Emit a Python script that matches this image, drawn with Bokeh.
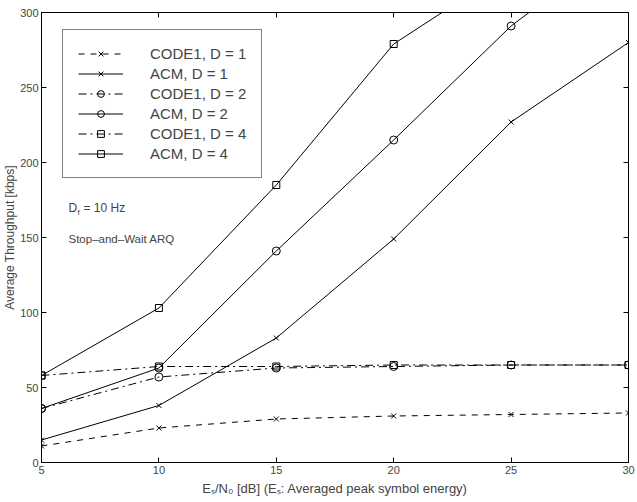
from bokeh.plotting import figure
from bokeh.models import (Range1d, LinearAxis, FixedTicker, Legend, LegendItem, Label)
from bokeh.embed import file_html
from bokeh.resources import INLINE

# ---- data ----
snr = [5, 10, 15, 20, 25, 30]
code1_d1 = [11, 23, 29, 31, 32, 33]
acm_d1 = [15, 38, 83, 149, 227, 280]
code1_d2 = [36, 57, 63, 64, 65, 65]
acm_d2 = [36, 63, 141, 215, 291, 350]
code1_d4 = [58, 64, 64, 65, 65, 65]
acm_d4 = [58, 103, 185, 279, 330, 360]

x_ticks = [5, 10, 15, 20, 25, 30]
y_ticks = [0, 50, 100, 150, 200, 250, 300]

FONT = "Liberation Sans"

p = figure(width=637, height=502, x_range=Range1d(5, 30), y_range=Range1d(0, 300),
           output_backend="svg", toolbar_location=None,
           min_border_left=40, min_border_right=9, min_border_top=12, min_border_bottom=40)
p.background_fill_color = "white"
p.border_fill_color = "white"
p.outline_line_color = "black"
p.grid.visible = False

for ax in (p.xaxis[0], p.yaxis[0]):
    ax.major_tick_in = 5
    ax.major_tick_out = 0
    ax.minor_tick_line_color = None
    ax.major_label_text_font = FONT
    ax.major_label_text_font_size = "11px"
    ax.axis_label_text_font = FONT
    ax.axis_label_text_font_style = "normal"
    ax.axis_line_color = "black"
p.xaxis[0].ticker = FixedTicker(ticks=x_ticks)
p.yaxis[0].ticker = FixedTicker(ticks=y_ticks)
p.xaxis[0].major_label_standoff = 3
p.yaxis[0].major_label_standoff = 3
p.xaxis[0].axis_label = "Eₛ/N₀ [dB] (Eₛ: Averaged peak symbol energy)"
p.yaxis[0].axis_label = "Average Throughput [kbps]"
p.xaxis[0].axis_label_text_font_size = "13px"
p.yaxis[0].axis_label_text_font_size = "12px"
p.xaxis[0].axis_label_standoff = 4
p.yaxis[0].axis_label_standoff = 0

right = LinearAxis(ticker=FixedTicker(ticks=y_ticks), major_tick_in=5, major_tick_out=0,
                   minor_tick_line_color=None,
                   major_label_overrides={t: "" for t in y_ticks},
                   major_label_standoff=0)
top = LinearAxis(ticker=FixedTicker(ticks=x_ticks), major_tick_in=5, major_tick_out=0,
                 minor_tick_line_color=None,
                 major_label_overrides={t: "" for t in x_ticks},
                 major_label_standoff=0)
p.add_layout(right, "right")
p.add_layout(top, "above")

series = [
    ("CODE1, D = 1", code1_d1, "dashed", "x"),
    ("ACM, D = 1", acm_d1, "solid", "x"),
    ("CODE1, D = 2", code1_d2, "8 4 2 4", "circle"),
    ("ACM, D = 2", acm_d2, "solid", "circle"),
    ("CODE1, D = 4", code1_d4, "8 4 2 4", "square"),
    ("ACM, D = 4", acm_d4, "solid", "square"),
]
items = []
for name, ys, dash, marker in series:
    l = p.line(snr, ys, line_color="black", line_width=1, line_dash=dash)
    size = 7 if marker != "circle" else 8
    m = p.scatter(snr, ys, marker=marker, size=size, line_color="black",
                  fill_color=None, line_width=1)
    items.append(LegendItem(label=name, renderers=[l, m]))

legend = Legend(items=items, location=(21, 284), glyph_width=45, glyph_height=17,
                label_standoff=27, spacing=3, padding=15,
                label_text_font=FONT, label_text_font_size="15px",
                border_line_color="black", border_line_width=1,
                background_fill_alpha=1.0)
p.add_layout(legend, "center")

# annotations
ax0 = 6.15
p.add_layout(Label(x=ax0, y=170, text="D", text_font=FONT, text_font_size="12px",
                   text_baseline="middle"))
p.add_layout(Label(x=ax0, y=170, x_offset=9, y_offset=-5, text="f", text_font=FONT,
                   text_font_size="8px", text_baseline="middle"))
p.add_layout(Label(x=ax0, y=170, x_offset=15, text="= 10 Hz", text_font=FONT,
                   text_font_size="12px", text_baseline="middle"))
p.add_layout(Label(x=ax0, y=149, text="Stop–and–Wait ARQ", text_font=FONT,
                   text_font_size="11.5px", text_baseline="middle"))

open("out.html", "w").write(file_html(p, INLINE))
